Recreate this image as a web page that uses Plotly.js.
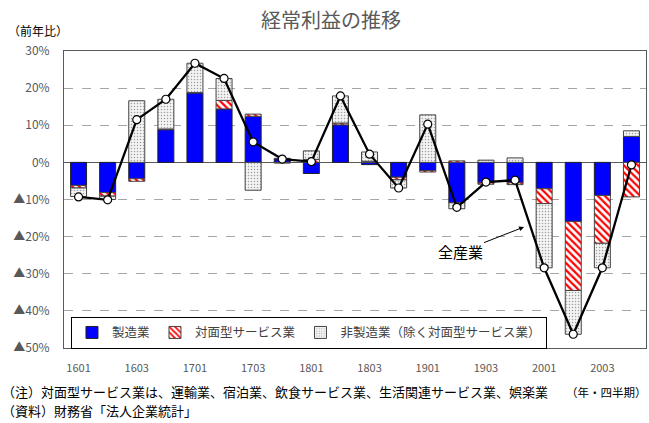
<!DOCTYPE html>
<html>
<head>
<meta charset="utf-8">
<script src="https://cdn.plot.ly/plotly-3.0.1.min.js"></script>
<style>html,body{margin:0;padding:0;background:#fff;}#chart{width:649px;height:423px;}</style>
</head>
<body>
<div id="chart"></div>
<script>
const categories = ['1601','1602','1603','1604','1701','1702','1703','1704','1801','1802','1803','1804','1901','1902','1903','1904','2001','2002','2003','2004'];
const manufacturing = [-6.2, -8.1, -4.4, 8.8, 18.7, 14.4, 12.4, 1.0, -3.0, 10.1, -0.6, -4.0, -2.2, -10.9, -5.5, -5.5, -7.1, -15.9, -8.9, 7.0];
const faceToFace = [-0.7, -1.0, -0.7, 0.2, 0.1, 2.3, 0.6, 0.1, 0.8, 0.5, 0.3, -0.7, -0.4, 0.4, -0.4, -0.5, -4.0, -18.6, -12.9, -9.3];
const otherNonMfg = [-2.3, -0.9, 16.6, 8.0, 7.9, 5.9, -7.5, -0.2, 2.3, 7.3, 2.5, -2.2, 12.8, -1.6, 0.6, 1.2, -17.3, -11.8, -6.6, 1.5];
const allIndustries = [-9.3, -10.1, 11.5, 17.0, 26.7, 22.6, 5.5, 0.9, 0.2, 17.9, 2.2, -6.9, 10.3, -12.1, -5.3, -4.8, -28.4, -46.3, -28.4, -0.7];
const xTickVals = ['1601','1603','1701','1703','1801','1803','1901','1903','2001','2003'];
const yTickVals = [30, 20, 10, 0, -10, -20, -30, -40, -50];
const yTickText = ['30%', '20%', '10%', '0%', '▲10%', '▲20%', '▲30%', '▲40%', '▲50%'];
const seriesNames = ['製造業', '対面型サービス業', '非製造業（除く対面型サービス業）', '全産業'];

const F = '"Noto Sans CJK JP", "Noto Sans", sans-serif';

const traces = [
  {type:'bar', x:categories, y:manufacturing, name:seriesNames[0],
   marker:{color:'#0000FF', line:{color:'#222', width:1}}},
  {type:'bar', x:categories, y:faceToFace, name:seriesNames[1],
   marker:{color:'#FF0000', line:{color:'#444', width:1},
     pattern:{shape:'\\', fgcolor:'#FF0000', bgcolor:'#FFFFFF', size:5, solidity:0.45}}},
  {type:'bar', x:categories, y:otherNonMfg, name:seriesNames[2],
   marker:{color:'#F2F2F2', line:{color:'#444', width:1},
     pattern:{shape:'.', fgcolor:'#A0A0A0', bgcolor:'#F4F4F4', size:3, solidity:0.2}}},
  {type:'scatter', mode:'lines+markers', x:categories, y:allIndustries, name:seriesNames[3],
   showlegend:false, cliponaxis:false,
   line:{color:'#000', width:2.3},
   marker:{symbol:'circle', size:8, color:'#FFFFFF', line:{color:'#000', width:1.2}}}
];

const layout = {
  width:649, height:423,
  margin:{l:64, r:3, t:51, b:75},
  paper_bgcolor:'#fff', plot_bgcolor:'#fff',
  font:{family:F, color:'#404040'},
  barmode:'relative', bargap:0.45,
  hovermode:false,
  title:{text:'経常利益の推移', font:{family:F, size:20, color:'#595959'},
         x:0.51, xref:'container', xanchor:'center', y:0.95, yref:'container', yanchor:'middle'},
  xaxis:{type:'category', range:[-0.5, 19.5], autorange:false,
         tickvals:xTickVals, ticktext:xTickVals,
         tickfont:{family:F, size:11, color:'#595959'},
         ticks:'outside', ticklen:10, tickcolor:'rgba(0,0,0,0)',
         showline:true, mirror:true, linecolor:'#595959', linewidth:1,
         showgrid:false, fixedrange:true},
  yaxis:{range:[-50,30], autorange:false, tickvals:yTickVals, ticktext:yTickText,
         tickfont:{family:F, size:12, color:'#595959'},
         showline:true, mirror:true, linecolor:'#595959', linewidth:1,
         showgrid:true, gridcolor:'#A6A6A6', griddash:'dash', gridwidth:1,
         zeroline:true, zerolinecolor:'#595959', zerolinewidth:1,
         ticks:'outside', ticklen:11, tickcolor:'rgba(0,0,0,0)', fixedrange:true},
  legend:{orientation:'h', x:0.012, xanchor:'left', y:0.105, yanchor:'top',
          bgcolor:'#fff', bordercolor:'#000', borderwidth:1,
          font:{family:F, size:12.5, color:'#404040'}, itemwidth:30,
          traceorder:'normal'},
  annotations:[
    {text:'（前年比）', xref:'paper', yref:'paper', x:-0.1, y:1.07, xanchor:'left', yanchor:'middle',
     showarrow:false, font:{family:F, size:12, color:'#000'}},
    {text:'全産業', xref:'x', yref:'y', x:15.31, y:-17.4, ax:-64, ay:25,
     showarrow:true, arrowhead:2, arrowsize:1, arrowwidth:1, arrowcolor:'#000',
     font:{family:F, size:15, color:'#000'}},
    {text:'（注）対面型サービス業は、運輸業、宿泊業、飲食サービス業、生活関連サービス業、娯楽業',
     xref:'paper', yref:'paper', x:-0.11, y:-0.148, xanchor:'left', yanchor:'middle',
     showarrow:false, font:{family:F, size:13, color:'#000'}},
    {text:'（年・四半期）', xref:'paper', yref:'paper', x:1.005, y:-0.148, xanchor:'right', yanchor:'middle',
     showarrow:false, font:{family:F, size:11.5, color:'#000'}},
    {text:'（資料）財務省「法人企業統計」', xref:'paper', yref:'paper', x:-0.11, y:-0.212, xanchor:'left', yanchor:'middle',
     showarrow:false, font:{family:F, size:13, color:'#000'}}
  ]
};

Plotly.newPlot('chart', traces, layout, {displayModeBar:false, staticPlot:true});
</script>
</body>
</html>
